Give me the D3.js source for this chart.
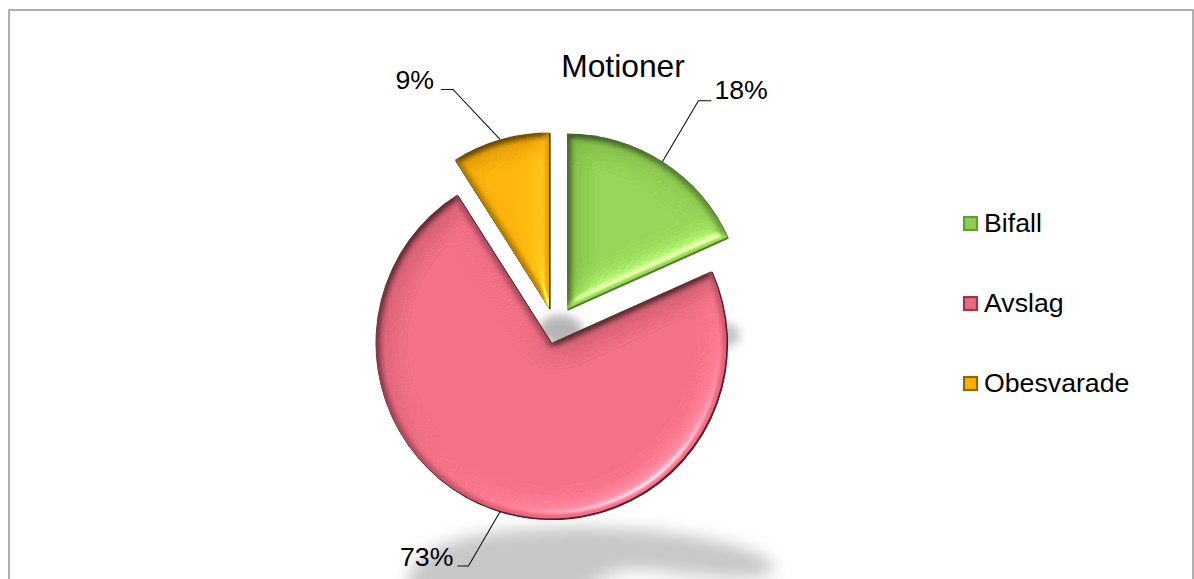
<!DOCTYPE html>
<html><head><meta charset="utf-8">
<script src="https://cdn.jsdelivr.net/npm/d3@7"></script>
<style>html,body{margin:0;padding:0;background:#fff;overflow:hidden}svg{display:block}
text{font-family:"Liberation Sans",Arial,sans-serif;fill:#000}</style></head>
<body><svg id="c" width="1194" height="579"></svg>
<script>
const categories = ["Bifall", "Avslag", "Obesvarade"];
const values = [18.3, 72.7, 9];
const title = "Motioner";
const baseColors = ["#8ECF50", "#EC6A80", "#FCB108"];
const rimColors = ["#4E7A2A", "#5A1A28", "#4A3000"];

const W = 1194, H = 579, R = 175.5;
const center = {x: 551, y: 343};
const explode = [{dx: 16, dy: -34}, {dx: 0, dy: 0}, {dx: -2, dy: -35}];

const svg = d3.select("#c");
const defs = svg.append("defs");

const blur = (id, s) => defs.append("filter").attr("id", id)
  .attr("x", "-30%").attr("y", "-100%").attr("width", "160%").attr("height", "300%")
  .append("feGaussianBlur").attr("stdDeviation", s);
blur("sh8", 8); blur("sh5", 5); blur("soft", 0.5);

const bevel = defs.append("filter").attr("id", "bevel")
  .attr("x", "-5%").attr("y", "-5%").attr("width", "110%").attr("height", "110%")
  .attr("color-interpolation-filters", "sRGB");
bevel.append("feGaussianBlur").attr("in", "SourceAlpha").attr("stdDeviation", 3.5).attr("result", "h1");
bevel.append("feGaussianBlur").attr("in", "SourceAlpha").attr("stdDeviation", 14).attr("result", "h2");
bevel.append("feComposite").attr("in", "h1").attr("in2", "h2").attr("operator", "arithmetic")
  .attr("k2", 0.55).attr("k3", 0.45).attr("result", "h");
const dl = bevel.append("feDiffuseLighting").attr("in", "h").attr("surfaceScale", 9)
  .attr("diffuseConstant", 1.15).attr("lighting-color", "#fff").attr("result", "d");
dl.append("feDistantLight").attr("azimuth", 55).attr("elevation", 60);
const sl = bevel.append("feSpecularLighting").attr("in", "h").attr("surfaceScale", 8)
  .attr("specularConstant", 0.9).attr("specularExponent", 28).attr("lighting-color", "#fff").attr("result", "s");
sl.append("feDistantLight").attr("azimuth", 55).attr("elevation", 40);
bevel.append("feComposite").attr("in", "SourceGraphic").attr("in2", "d")
  .attr("operator", "arithmetic").attr("k1", 0.7).attr("k2", 0.3).attr("result", "lit");
bevel.append("feComposite").attr("in", "s").attr("in2", "SourceAlpha").attr("operator", "in").attr("result", "sc");
bevel.append("feComposite").attr("in", "lit").attr("in2", "sc")
  .attr("operator", "arithmetic").attr("k2", 1).attr("k3", 0.5).attr("result", "o");
bevel.append("feGaussianBlur").attr("in", "o").attr("stdDeviation", 0.45);

// frame
svg.append("rect").attr("x", 9).attr("y", 10).attr("width", 1184).attr("height", 640)
  .attr("fill", "#fff").attr("stroke", "#9c9c9c").attr("stroke-width", 1.6);

// cast shadows
const shadow = svg.append("g");
shadow.append("path").attr("filter", "url(#sh8)").attr("fill", "#c8c8c8")
  .attr("d", "M408,580 C414,538 500,526 590,527 C670,528 765,545 776,568 C765,586 690,574 645,570 C615,568 595,578 580,600 L408,600 Z");
shadow.append("ellipse").attr("filter", "url(#sh5)").attr("cx", 560).attr("cy", 330).attr("rx", 22).attr("ry", 15).attr("fill", "#b5b5b5");
shadow.append("ellipse").attr("filter", "url(#sh5)").attr("cx", 722).attr("cy", 335).attr("rx", 18).attr("ry", 13).attr("fill", "#c4c4c4");

// pie
const pie = d3.pie().sort(null).value(d => d)(values);
const arc = d3.arc().innerRadius(0).outerRadius(R);
const pieG = svg.append("g").attr("transform", `translate(${center.x},${center.y})`);
const slices = pieG.selectAll("g.slice").data(pie).join("g").attr("class", "slice")
  .attr("transform", (d, i) => `translate(${explode[i].dx},${explode[i].dy})`);
slices.append("path").attr("d", arc).attr("fill", (d, i) => rimColors[i])
  .attr("stroke", (d, i) => rimColors[i]).attr("stroke-width", 1.2).attr("stroke-linejoin", "round")
  .attr("transform", "translate(1,1)");
slices.append("path").attr("d", arc).attr("fill", (d, i) => baseColors[i]).attr("filter", "url(#bevel)");
// dark closing edge of the last slice
slices.filter((d, i) => i === 2).append("line")
  .attr("x1", -1).attr("y1", -1).attr("x2", -1).attr("y2", -R)
  .attr("stroke", rimColors[2]).attr("stroke-width", 3).attr("filter", "url(#soft)");

// leader lines and labels
const fmt = v => d3.format(".0f")(v) + "%";
const labelOut = [{dx: 36, dy: -61, t: 13, tx: 16, yo: -2, anchor: "start"},
                  {dx: -32, dy: 55, t: -11, tx: -15, yo: 0, anchor: "end"},
                  {dx: -47, dy: -50, t: -12, tx: -19, yo: 0, anchor: "end"}];
pie.forEach((d, i) => {
  const a = (d.startAngle + d.endAngle) / 2;
  const x0 = center.x + explode[i].dx + R * Math.sin(a);
  const y0 = center.y + explode[i].dy - R * Math.cos(a);
  const l = labelOut[i];
  const x1 = x0 + l.dx, y1 = y0 + l.dy;
  svg.append("path").attr("fill", "none").attr("stroke", "#111").attr("stroke-width", 1.1)
    .attr("d", d3.line()([[x0, y0], [x1, y1], [x1 + l.t, y1]]));
  svg.append("text").attr("x", x1 + l.tx).attr("y", y1 + l.yo).attr("text-anchor", l.anchor)
    .attr("font-size", 26.7).text(fmt(d.data));
});

svg.append("text").attr("x", 623).attr("y", 77).attr("text-anchor", "middle").attr("font-size", 31.8).text(title);

// legend
const ly = d3.scalePoint().domain(categories).range([223.5, 383.5]);
const lg = svg.selectAll("g.leg").data(categories).join("g").attr("class", "leg")
  .attr("transform", d => `translate(963,${ly(d)})`);
lg.append("rect").attr("x", 0).attr("y", -7.5).attr("width", 15).attr("height", 15)
  .attr("fill", (d, i) => baseColors[i]);
lg.append("rect").attr("x", 1).attr("y", -6.5).attr("width", 13).attr("height", 13).attr("fill", "none")
  .attr("stroke", (d, i) => rimColors[i]).attr("stroke-opacity", .6).attr("stroke-width", 2.2).attr("filter", "url(#soft)");
lg.append("text").attr("x", 21).attr("y", 8.5).attr("font-size", 26.7).text(d => d);
</script></body></html>
